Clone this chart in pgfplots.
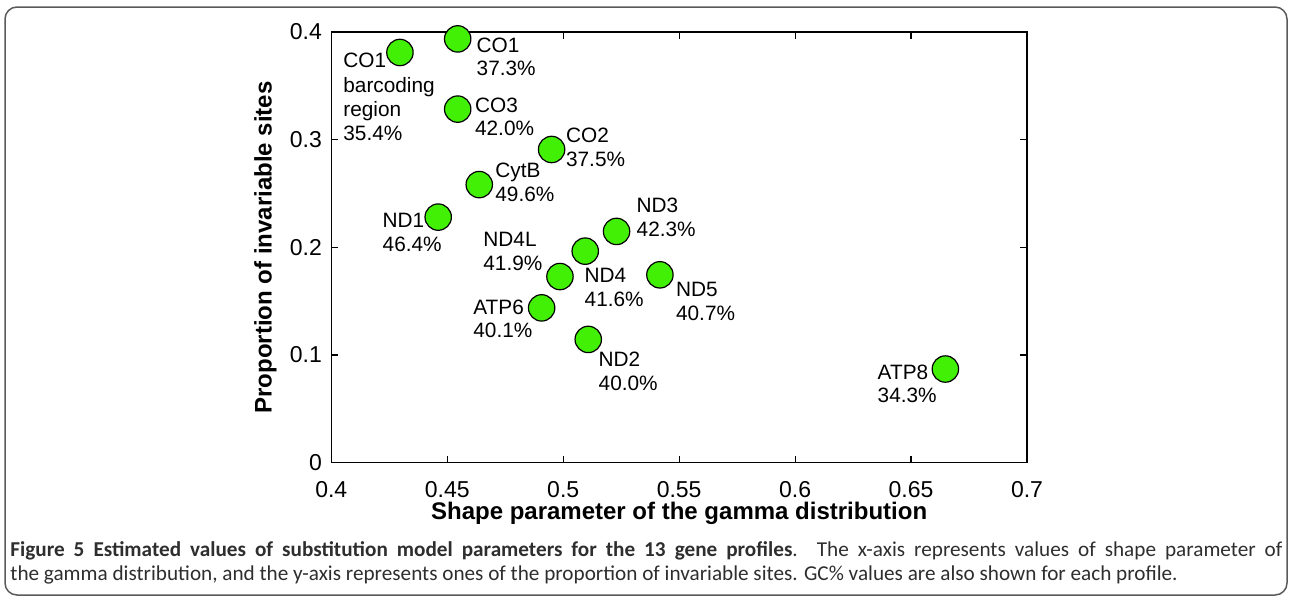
\documentclass[border=0pt]{standalone}
\usepackage{fontspec}
\setmainfont{Liberation Sans}
\newfontfamily\capfont{Carlito}
\usepackage{pgfplots}
\pgfplotsset{compat=1.18}
\definecolor{ptgreen}{RGB}{66,240,5}
\definecolor{framegray}{RGB}{90,90,90}

\pgfplotstableread{
x      y      name
0.4296 0.3810 CO1bc
0.4545 0.3936 CO1
0.4545 0.3284 CO3
0.4950 0.2909 CO2
0.4638 0.2583 CytB
0.4461 0.2281 ND1
0.5230 0.2148 ND3
0.5095 0.1965 ND4L
0.4986 0.1729 ND4
0.5417 0.1745 ND5
0.4907 0.1438 ATP6
0.5108 0.1145 ND2
0.6648 0.0870 ATP8
}\genedata

\begin{document}
\begin{tikzpicture}
\path[use as bounding box] (0,0) rectangle (644.5pt,-300pt);
\begin{axis}[
  at={(165.65pt,-231.35pt)}, anchor=south west,
  scale only axis, width=347.85pt, height=215.35pt,
  xmin=0.4, xmax=0.7, ymin=0, ymax=0.4,
  xtick={0.4,0.45,0.5,0.55,0.6,0.65,0.7},
  ytick={0,0.1,0.2,0.3,0.4},
  tick align=inside,
  xtick pos=both, ytick pos=both,
  major tick length=3.3pt,
  axis line style={line width=0.6pt},
  every tick/.style={line width=0.6pt, black},
  /pgf/number format/assume math mode=true,
  tick label style={font=\fontsize{11.5}{13}\selectfont},
  xticklabel style={anchor=base, yshift=-17.15pt},
  yticklabel style={anchor=east, inner xsep=0pt, xshift=-4.5pt},
  xlabel={Shape parameter of the gamma distribution},
  xlabel style={font=\bfseries\fontsize{12}{14}\selectfont, at={(axis description cs:0.5,-0.1309)}, anchor=base},
  ylabel={Proportion of invariable sites},
  ylabel style={font=\bfseries\fontsize{12}{14}\selectfont, at={(axis description cs:-0.0857,0.5)}, anchor=base},
  clip=false,
]
\addplot[only marks, mark=*, mark size=6.6pt,
  mark options={fill=ptgreen, draw=black, line width=0.6pt}] table[x=x,y=y] {\genedata};
\end{axis}
\begin{scope}[x=0.5pt,y=-0.5pt]
\draw[framegray, line width=0.75pt, rounded corners=6pt] (5,7) rectangle (1287,595);
\begin{scope}[every node/.style={anchor=base west, inner sep=0pt, font=\fontsize{10.4}{12}\selectfont}]
\node at (343,67.7) {CO1};
\node at (343,92.2) {barcoding};
\node at (343,116.5) {region};
\node at (343,140.5) {35.4\%};
\node at (476.3,52.3) {CO1};
\node at (476.3,75.5) {37.3\%};
\node at (474.7,112.3) {CO3};
\node at (474.7,135.7) {42.0\%};
\node at (565.7,142.7) {CO2};
\node at (565.7,166) {37.5\%};
\node at (495,177.3) {CytB};
\node at (495,201) {49.6\%};
\node at (382.3,227.7) {ND1};
\node at (382.3,251.7) {46.4\%};
\node at (483,246) {ND4L};
\node at (483,270) {41.9\%};
\node at (636.3,212.3) {ND3};
\node at (636.3,236.7) {42.3\%};
\node at (584.3,282.3) {ND4};
\node at (584.3,306) {41.6\%};
\node at (675.7,296.7) {ND5};
\node at (675.7,320) {40.7\%};
\node at (473,314.3) {ATP6};
\node at (473,337.3) {40.1\%};
\node at (598.3,366) {ND2};
\node at (598.3,390.7) {40.0\%};
\node at (877.3,379) {ATP8};
\node at (877.3,402.7) {34.3\%};
\end{scope}
\begin{scope}[every node/.style={anchor=base west, inner sep=0pt, text=black!82, font=\capfont\fontsize{10.6}{12}\selectfont}]
\node at (10,556) {\hbox to 636pt{\textbf{Figure 5 Estimated values of substitution model parameters for the 13 gene profiles}. The x-axis represents values of shape parameter of}};
\node at (10,580) {the gamma distribution, and the y-axis represents ones of the proportion of invariable sites. GC\% values are also shown for each profile.};
\end{scope}
\end{scope}
\end{tikzpicture}
\end{document}
